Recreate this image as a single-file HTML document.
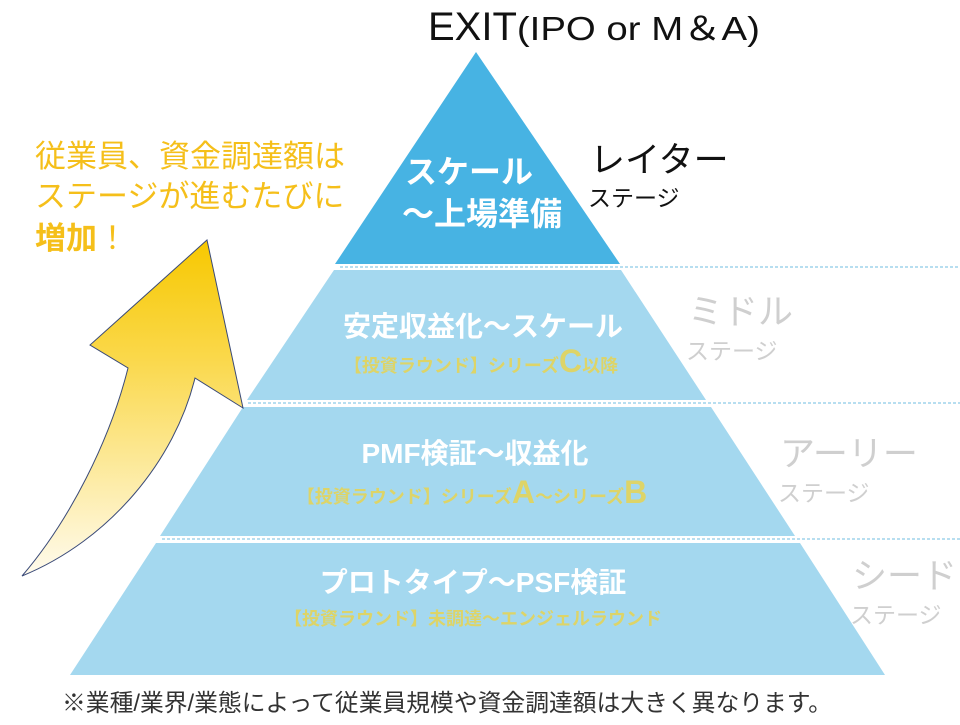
<!DOCTYPE html>
<html><head><meta charset="utf-8"><style>
body{margin:0;background:#fff;width:960px;height:720px;overflow:hidden;font-family:"Liberation Sans","Noto Sans CJK JP",sans-serif}
</style></head><body>
<svg width="960" height="720" viewBox="0 0 960 720" xmlns="http://www.w3.org/2000/svg" font-family="Liberation Sans, Noto Sans CJK JP, sans-serif">
<defs>
<linearGradient id="g" x1="0" y1="0" x2="0" y2="1">
<stop offset="0" stop-color="#f7c800"/><stop offset="0.35" stop-color="#fad84a"/><stop offset="1" stop-color="#fffbee"/>
</linearGradient>
</defs>
<polygon points="476,52 335,264 620,264" fill="#47b3e3"/>
<polygon points="334,270 621,270 706,400 247,400" fill="#a4d8ef"/>
<polygon points="243,407 711,407 795,536 160,536" fill="#a4d8ef"/>
<polygon points="156,543 800,543 885,675 70,675" fill="#a4d8ef"/>
<g stroke="#8ccbe8" stroke-width="1.2" stroke-dasharray="3,2">
<line x1="340" y1="267" x2="960" y2="267"/>
<line x1="248" y1="403" x2="960" y2="403"/>
<line x1="162" y1="539" x2="960" y2="539"/>
</g>
<path d="M22,576 C70,520 110,440 128,368 L90,345 L207,240 L243,408 L195,378 C175,460 110,540 22,576 Z" fill="url(#g)" stroke="#3a4a78" stroke-width="1"/>
<text x="428" y="40" font-size="40" fill="#111">EXIT<tspan font-size="33" textLength="243" lengthAdjust="spacingAndGlyphs">(IPO or M＆A)</tspan></text>
<text x="405" y="183" font-size="32" font-weight="bold" fill="#fff">スケール</text>
<text x="402" y="225" font-size="32" font-weight="bold" fill="#fff">〜上場準備</text>
<text x="590" y="172" font-size="35" fill="#111">レイター</text>
<text x="588" y="206" font-size="23" fill="#111">ステージ</text>
<text x="688" y="324" font-size="35" fill="#cfcfcf">ミドル</text>
<text x="686" y="359" font-size="23" fill="#cfcfcf">ステージ</text>
<text x="780" y="466" font-size="35" fill="#cfcfcf">アーリー</text>
<text x="778" y="501" font-size="23" fill="#cfcfcf">ステージ</text>
<text x="852" y="588" font-size="35" fill="#cfcfcf">シード</text>
<text x="850" y="623" font-size="23" fill="#cfcfcf">ステージ</text>
<text x="483" y="336" font-size="28" font-weight="bold" fill="#fff" text-anchor="middle">安定収益化〜スケール</text>
<text x="481" y="372" font-size="18" font-weight="bold" fill="#ddd468" text-anchor="middle">【投資ラウンド】シリーズ<tspan font-size="32">C</tspan>以降</text>
<text x="475" y="463" font-size="28" font-weight="bold" fill="#fff" text-anchor="middle">PMF検証〜収益化</text>
<text x="472" y="503" font-size="18" font-weight="bold" fill="#ddd468" text-anchor="middle">【投資ラウンド】シリーズ<tspan font-size="32">A</tspan>〜シリーズ<tspan font-size="32">B</tspan></text>
<text x="473" y="592" font-size="28" font-weight="bold" fill="#fff" text-anchor="middle">プロトタイプ〜PSF検証</text>
<text x="473" y="625" font-size="18" font-weight="bold" fill="#ddd468" text-anchor="middle">【投資ラウンド】未調達〜エンジェルラウンド</text>
<text x="35" y="167" font-size="31" fill="#f5bf1a">従業員、資金調達額は</text>
<text x="35" y="207" font-size="31" fill="#f5bf1a">ステージが進むたびに</text>
<text x="35" y="249" font-size="31" font-weight="bold" fill="#f5bf1a">増加<tspan font-weight="normal">！</tspan></text>
<text x="62" y="711" font-size="24" fill="#333" textLength="770" lengthAdjust="spacingAndGlyphs">※業種/業界/業態によって従業員規模や資金調達額は大きく異なります。</text>
</svg>
</body></html>
